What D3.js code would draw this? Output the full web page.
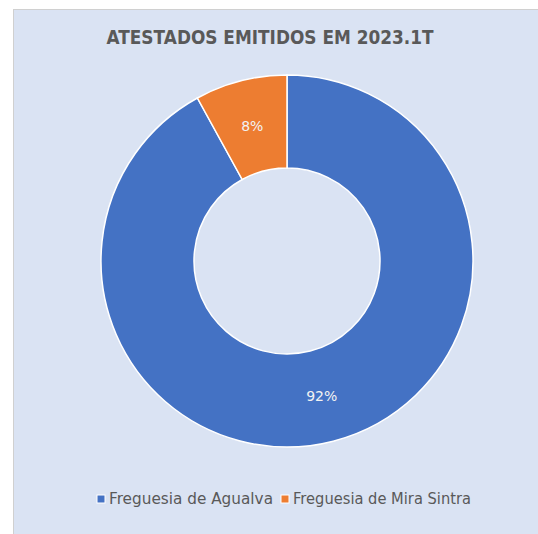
<!DOCTYPE html>
<html lang="pt">
<head>
<meta charset="UTF-8">
<title>Atestados emitidos em 2023.1T</title>
<script src="https://d3js.org/d3.v7.min.js"></script>
<style>
  body { margin: 0; background: #fff; font-family: 'DejaVu Sans', sans-serif; }
  svg { display: block; }
  .title { font-weight: bold; fill: #595959; }
  .legend-text { fill: #595959; }
  .slice-label { fill: #f2f2f2; }
</style>
</head>
<body>
<svg width="538" height="534"></svg>
<script>
// data
const categories = ["Freguesia de Agualva", "Freguesia de Mira Sintra"];
const values = [92, 8];
const colors = ["#4472C4", "#ED7D31"];
const title = "ATESTADOS EMITIDOS EM 2023.1T";

const svg = d3.select("svg");
const width = 538, height = 534;

// panel
svg.append("rect")
    .attr("x", 13.5).attr("y", 9.5)
    .attr("width", width).attr("height", height)
    .attr("fill", "#DAE3F3")
    .attr("stroke", "#d0d0d0")
    .attr("stroke-width", 1);

svg.append("text")
    .attr("class", "title")
    .attr("x", 270).attr("y", 44)
    .attr("text-anchor", "middle")
    .style("font-size", "20px")
    .attr("textLength", 327)
    .attr("lengthAdjust", "spacingAndGlyphs")
    .text(title);

const cx = 287, cy = 261, outerR = 186, innerR = 93;

const pie = d3.pie().sort(null).value(d => d.value);
const arc = d3.arc().innerRadius(innerR).outerRadius(outerR);
const data = categories.map((c, i) => ({ name: c, value: values[i], color: colors[i] }));
const total = d3.sum(values);

const g = svg.append("g").attr("transform", `translate(${cx},${cy})`);
const arcs = pie(data);

g.selectAll("path.slice")
    .data(arcs)
    .join("path")
    .attr("class", "slice")
    .attr("d", arc)
    .attr("fill", d => d.data.color)
    .attr("stroke", "#fff")
    .attr("stroke-width", 1.5);

g.selectAll("text.slice-label")
    .data(arcs)
    .join("text")
    .attr("class", "slice-label")
    .attr("transform", d => `translate(${arc.centroid(d)})`)
    .attr("text-anchor", "middle")
    .attr("dy", "0.35em")
    .style("font-size", "14px")
    .text(d => Math.round(d.data.value / total * 100) + "%");

// legend
const legendLen = [164, 178];
const legend = svg.append("g").attr("transform", "translate(97,499)");
let xOff = 0;
data.forEach((d, i) => {
  const item = legend.append("g").attr("transform", `translate(${xOff},0)`);
  item.append("rect")
      .attr("x", 0).attr("y", -4)
      .attr("width", 8).attr("height", 8)
      .attr("fill", d.color)
      .attr("stroke", "#fff").attr("stroke-width", 1);
  item.append("text")
      .attr("class", "legend-text")
      .attr("x", 12).attr("y", 0)
      .attr("dy", "0.36em")
      .style("font-size", "15px")
      .attr("textLength", legendLen[i])
      .attr("lengthAdjust", "spacingAndGlyphs")
      .text(d.name);
  xOff += 12 + legendLen[i] + 8;
});
</script>
</body>
</html>
